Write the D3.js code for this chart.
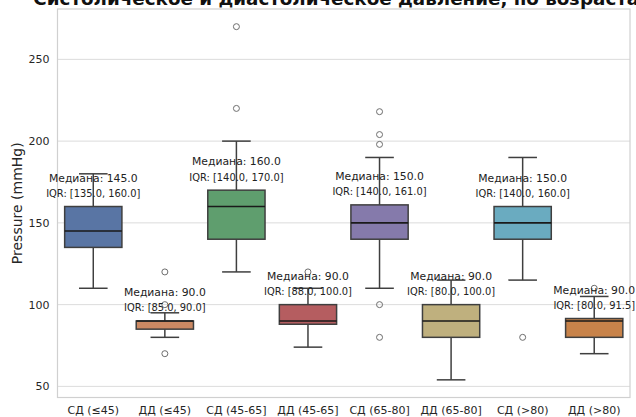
<!DOCTYPE html>
<html>
<head>
<meta charset="utf-8">
<script src="https://cdn.jsdelivr.net/npm/d3@7"></script>
<style>
  body { margin: 0; background: #fff; overflow: hidden; }
  text { font-family: "DejaVu Sans", sans-serif; }
</style>
</head>
<body>
<svg width="636" height="417"></svg>
<script>
  // groups and box statistics
  const groups = ['СД (≤45)', 'ДД (≤45)', 'СД (45-65]', 'ДД (45-65]', 'СД (65-80]', 'ДД (65-80]', 'СД (>80)', 'ДД (>80)'];
  const whiskLow  = [110, 80, 120, 74, 110, 54, 115, 70];
  const q1        = [135, 85, 140, 88, 140, 80, 140, 80];
  const medians   = [145, 90, 160, 90, 150, 90, 150, 90];
  const q3        = [160, 90, 170, 100, 161, 100, 160, 91.5];
  const whiskHigh = [180, 95, 200, 110, 190, 115, 190, 105];
  const outliers  = [[], [120, 100, 70], [270, 220], [120], [218, 204, 198, 100, 80], [], [80], [110]];
  const colors = ['#5975a4', '#cc8963', '#5f9e6e', '#b55d60', '#857aab', '#bfb07e', '#6aabc0', '#c8834a'];
  const yTicks = [50, 100, 150, 200, 250];

  const svg = d3.select('svg');
  const plotL = 57.5, plotR = 630, plotT = 9, plotB = 397.5;

  const x = d3.scaleBand()
    .domain(groups)
    .range([plotL, plotR])
    .padding(0);

  const y = d3.scaleLinear()
    .domain([43.2, 280.8])
    .range([plotB, plotT]);

  // grid
  svg.append('g')
    .selectAll('line')
    .data(yTicks)
    .enter().append('line')
      .attr('x1', plotL).attr('x2', plotR)
      .attr('y1', d => y(d)).attr('y2', d => y(d))
      .attr('stroke', '#dcdcdc')
      .attr('stroke-width', 1);

  // frame
  svg.append('rect')
    .attr('x', plotL).attr('y', plotT)
    .attr('width', plotR - plotL).attr('height', plotB - plotT)
    .attr('fill', 'none')
    .attr('stroke', '#d0d0d0')
    .attr('stroke-width', 1.2);

  // y axis
  const yAxis = svg.append('g')
    .attr('transform', `translate(${plotL},0)`)
    .call(d3.axisLeft(y).tickValues(yTicks).tickSize(0).tickPadding(8));
  yAxis.select('.domain').remove();
  yAxis.selectAll('text').attr('font-size', 11).attr('fill', '#262626');

  // x axis
  const xAxis = svg.append('g')
    .attr('transform', `translate(0,${plotB})`)
    .call(d3.axisBottom(x).tickSize(0).tickPadding(9));
  xAxis.select('.domain').remove();
  xAxis.selectAll('text').attr('font-size', 11).attr('fill', '#262626');

  svg.append('text')
    .attr('transform', `translate(22,${(plotT + plotB) / 2}) rotate(-90)`)
    .attr('text-anchor', 'middle')
    .attr('font-size', 14)
    .attr('fill', '#262626')
    .text('Pressure (mmHg)');

  // title runs past the top and right edge, as in the reference
  svg.append('text')
    .attr('x', (plotL + plotR) / 2)
    .attr('y', 5)
    .attr('text-anchor', 'middle')
    .attr('font-size', 18.3)
    .attr('font-weight', 'bold')
    .attr('fill', '#111')
    .text('Систолическое и диастолическое давление, по возрастам');

  const boxW = x.bandwidth() * 0.8;
  const capW = boxW / 2;
  const lineCol = '#3f3f3f';

  const boxes = svg.append('g')
    .selectAll('g')
    .data(groups)
    .enter().append('g');

  boxes.each(function (g, i) {
    const sel = d3.select(this);
    const cx = x(g) + x.bandwidth() / 2;

    // whiskers
    sel.append('line')
      .attr('x1', cx).attr('x2', cx)
      .attr('y1', y(q1[i])).attr('y2', y(whiskLow[i]))
      .attr('stroke', lineCol).attr('stroke-width', 1.5);
    sel.append('line')
      .attr('x1', cx).attr('x2', cx)
      .attr('y1', y(q3[i])).attr('y2', y(whiskHigh[i]))
      .attr('stroke', lineCol).attr('stroke-width', 1.5);
    [whiskLow[i], whiskHigh[i]].forEach(v => {
      sel.append('line')
        .attr('x1', cx - capW / 2).attr('x2', cx + capW / 2)
        .attr('y1', y(v)).attr('y2', y(v))
        .attr('stroke', lineCol).attr('stroke-width', 1.5);
    });

    sel.append('rect')
      .attr('x', cx - boxW / 2)
      .attr('y', y(q3[i]))
      .attr('width', boxW)
      .attr('height', y(q1[i]) - y(q3[i]))
      .attr('fill', colors[i])
      .attr('stroke', lineCol)
      .attr('stroke-width', 1.5);

    sel.append('line')
      .attr('x1', cx - boxW / 2).attr('x2', cx + boxW / 2)
      .attr('y1', y(medians[i])).attr('y2', y(medians[i]))
      .attr('stroke', '#1a1a1a').attr('stroke-width', 1.6);

    sel.selectAll('circle')
      .data(outliers[i])
      .enter().append('circle')
        .attr('cx', cx)
        .attr('cy', d => y(d))
        .attr('r', 3)
        .attr('fill', 'none')
        .attr('stroke', '#6e6e6e')
        .attr('stroke-width', 1);

    // labels above the box
    sel.append('text')
      .attr('x', cx)
      .attr('y', y(q3[i]) - 25)
      .attr('text-anchor', 'middle')
      .attr('font-size', 10.8)
      .attr('fill', '#222')
      .text('Медиана: ' + medians[i].toFixed(1));
    sel.append('text')
      .attr('x', cx)
      .attr('y', y(q3[i]) - 9.5)
      .attr('text-anchor', 'middle')
      .attr('font-size', 9.9)
      .attr('fill', '#222')
      .text('IQR: [' + q1[i].toFixed(1) + ', ' + q3[i].toFixed(1) + ']');
  });
</script>
</body>
</html>
